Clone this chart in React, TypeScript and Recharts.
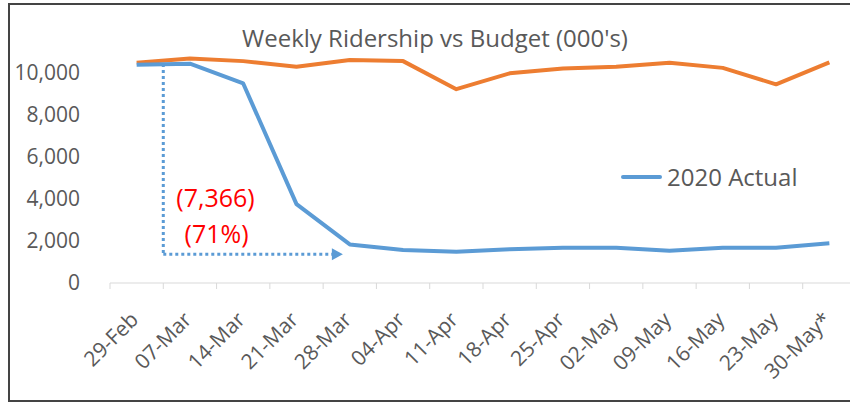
import React from "react";
import {
  LineChart,
  Line,
  XAxis,
  YAxis,
  Legend,
  ReferenceLine,
  ReferenceDot,
} from "recharts";

// weekly ridership, thousands
const weeks = [
  "29-Feb", "07-Mar", "14-Mar", "21-Mar", "28-Mar", "04-Apr", "11-Apr",
  "18-Apr", "25-Apr", "02-May", "09-May", "16-May", "23-May", "30-May*",
];
const budget = [10440, 10650, 10520, 10250, 10570, 10520, 9190, 9940, 10170, 10250, 10440, 10200, 9420, 10460];
const actual = [10350, 10400, 9460, 3740, 1830, 1560, 1480, 1600, 1670, 1670, 1530, 1670, 1670, 1880];
const yTicks = [0, 2000, 4000, 6000, 8000, 10000];

// drop annotation (x in week index, y in 000's)
const dropTop = 10380;
const dropBase = 1360;
const dropFrom = 0.5;
const dropTo = 3.7;
const arrowTip = 3.87;
const dropLabel = "(7,366)";
const dropPct = "(71%)";

const GREY = "#595959";
const ORANGE = "#ED7D31";
const BLUE = "#5B9BD5";
const FONT = "'Open Sans', sans-serif";

const data = weeks.map((w, i) => ({ i, week: w, budget: budget[i], actual: actual[i] }));
// ticks on every half step: edges get a tick mark, centres get the date
const xTicks = [...weeks.map((_, i) => i - 0.5), ...weeks.map((_, i) => i), weeks.length - 0.5].sort((a, b) => a - b);

const DateTick = (props: any) => {
  const { x, y, payload } = props;
  const v = payload.value;
  if (!Number.isInteger(v)) {
    return <line x1={x} y1={y} x2={x} y2={y + 6} stroke="#D9D9D9" />;
  }
  return (
    <g transform={`translate(${x + 3},${y + 38}) rotate(-45)`}>
      <text x={0} y={0} textAnchor="end" fill={GREY} fontSize={21} fontFamily={FONT}>
        {weeks[v]}
      </text>
    </g>
  );
};

const ArrowHead = (props: any) => {
  const { cx, cy } = props;
  return <path d={`M${cx - 11},${cy - 6} L${cx},${cy} L${cx - 11},${cy + 6} Z`} fill={BLUE} />;
};

const RedText = (text: string) => (props: any) => (
  <text x={props.cx} y={props.cy} textAnchor="middle" dominantBaseline="central" fill="#FF0000" fontSize={25} fontFamily={FONT}>
    {text}
  </text>
);

const LegendBox = () => (
  <div style={{ display: "flex", alignItems: "center", fontFamily: FONT, fontSize: 24, color: GREY }}>
    <span style={{ display: "inline-block", width: 41, height: 4, background: BLUE, borderRadius: 2, marginRight: 5 }} />
    2020 Actual
  </div>
);

export default function App() {
  return (
    <div style={{ position: "absolute", left: 0, top: 0, width: 850, height: 404, overflow: "hidden", background: "#fff" }}>
      <div
        style={{
          position: "absolute", left: 8, top: 3, width: 900, height: 399,
          border: "2px solid #444", boxSizing: "border-box",
        }}
      />
      <div
        style={{
          position: "absolute", left: 135, top: 22, width: 600, textAlign: "center",
          fontFamily: FONT, fontSize: 24, color: GREY, lineHeight: "32px",
        }}
      >
        Weekly Ridership vs Budget (000's)
      </div>
      <div style={{ position: "absolute", left: 0, top: 0 }}>
        <LineChart width={870} height={404} data={data} margin={{ top: 51, right: 14, bottom: 0, left: 0 }}>
          <XAxis
            type="number"
            dataKey="i"
            domain={[-0.5, 13.5]}
            allowDataOverflow
            ticks={xTicks}
            interval={0}
            tick={<DateTick />}
            tickSize={0}
            tickMargin={0}
            tickLine={false}
            axisLine={{ stroke: "#D9D9D9" }}
            height={121}
          />
          <YAxis
            domain={[0, 11000]}
            ticks={yTicks}
            tickFormatter={(v: number) => v.toLocaleString("en-US")}
            axisLine={false}
            tickLine={false}
            tickSize={6}
            tickMargin={24}
            width={110}
            tick={{ fill: GREY, fontSize: 21, fontFamily: FONT }}
          />
          <Legend
            layout="vertical"
            align="center"
            verticalAlign="middle"
            wrapperStyle={{ left: 621, top: 160, width: 200 }}
            content={() => <LegendBox />}
          />
          <Line
            dataKey="budget"
            stroke={ORANGE}
            strokeWidth={4}
            dot={false}
            strokeLinejoin="round"
            isAnimationActive={false}
          />
          <Line
            dataKey="actual"
            stroke={BLUE}
            strokeWidth={4}
            dot={false}
            strokeLinejoin="round"
            isAnimationActive={false}
          />
          <ReferenceLine
            segment={[{ x: dropFrom, y: dropTop }, { x: dropFrom, y: dropBase }]}
            stroke={BLUE}
            strokeWidth={3}
            strokeDasharray="3 3"
          />
          <ReferenceLine
            segment={[{ x: dropFrom, y: dropBase }, { x: dropTo, y: dropBase }]}
            stroke={BLUE}
            strokeWidth={3}
            strokeDasharray="3 3"
          />
          <ReferenceDot x={arrowTip} y={dropBase} shape={<ArrowHead />} />
          <ReferenceDot x={1.48} y={4080} shape={RedText(dropLabel)} />
          <ReferenceDot x={1.5} y={2370} shape={RedText(dropPct)} />
        </LineChart>
      </div>
    </div>
  );
}
